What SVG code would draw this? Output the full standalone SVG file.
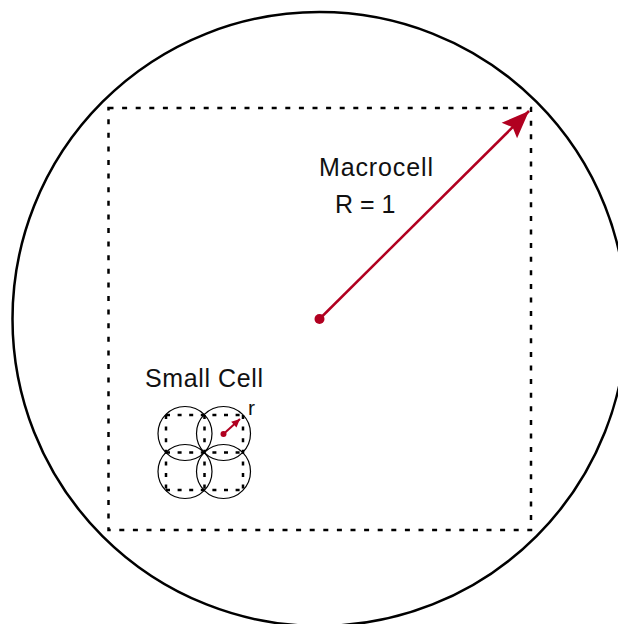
<svg xmlns="http://www.w3.org/2000/svg" width="618" height="624" viewBox="0 0 618 624">
<style>
.lbl{font-family:"Liberation Sans",Arial,sans-serif;fill:#111}
.big{fill:none;stroke:#000;stroke-width:2.5}
.sq{fill:none;stroke:#000;stroke-width:2.5;stroke-dasharray:5 8.6}
.sc{fill:none;stroke:#000;stroke-width:1.2}
.ssq{fill:none;stroke:#000;stroke-width:2.5;stroke-dasharray:4 7.6}
.red{stroke:#b10020;fill:none}
</style>
<defs>
<marker id="bigHead" markerUnits="userSpaceOnUse" markerWidth="30" markerHeight="24" viewBox="-24 -10 26 20" refX="0" refY="0" orient="auto">
<path d="M0,0 L-24,-9.5 L-20,0 L-24,9.5 z" fill="#b10020"/>
</marker>
<marker id="smallHead" markerUnits="userSpaceOnUse" markerWidth="10" markerHeight="10" viewBox="-8 -4 9 8" refX="0" refY="0" orient="auto">
<path d="M0,0 L-7.5,-3.5 L-7.5,3.5 z" fill="#b10020"/>
</marker>
</defs>
<g id="macrocell">
<circle class="big" cx="319.5" cy="319" r="307"/>
<rect class="sq" x="108.5" y="108" width="422.5" height="422"/>
<text class="lbl" x="319" y="176" font-size="25" textLength="114">Macrocell</text>
<text class="lbl" x="335" y="213" font-size="25">R = 1</text>
</g>
<g id="small-cell">
<circle class="sc" cx="185" cy="433.5" r="27"/>
<circle class="sc" cx="223.5" cy="433.5" r="27"/>
<circle class="sc" cx="185" cy="471.5" r="27"/>
<circle class="sc" cx="223.5" cy="471.5" r="27"/>
<path class="ssq" d="M166,415 H243 M166,452.5 H243 M166,490 H243 M166,415 V490 M204.5,415 V490 M243,415 V490"/>
<text class="lbl" x="145" y="387" font-size="25" textLength="118">Small Cell</text>
<text class="lbl" x="248" y="415" font-size="21">r</text>
</g>
<g id="connectors">
<circle cx="319.5" cy="319" r="5" fill="#b10020"/>
<line class="red" x1="319.5" y1="319" x2="529" y2="111" stroke-width="2.5" marker-end="url(#bigHead)"/>
<circle cx="223.5" cy="434" r="3" fill="#b10020"/>
<line class="red" x1="223.5" y1="434" x2="240" y2="419" stroke-width="2" marker-end="url(#smallHead)"/>
</g>
</svg>
